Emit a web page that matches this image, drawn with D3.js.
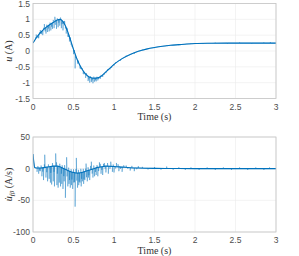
<!DOCTYPE html>
<html>
<head>
<meta charset="utf-8">
<script src="https://cdn.jsdelivr.net/npm/d3@7"></script>
<style>
  body { margin: 0; background: #fff; }
  svg { display: block; }
</style>
</head>
<body>
<div id="chart"></div>
<script>
// x ticks shared by both panels
const xTicks = [0, 0.5, 1, 1.5, 2, 2.5, 3];

// top panel: u (A), smooth part
const uTime = [0, 0.05, 0.1, 0.15, 0.2, 0.25, 0.3, 0.33, 0.36, 0.4, 0.45, 0.5, 0.55, 0.6, 0.65, 0.7, 0.75, 0.8, 0.85, 0.9, 0.95, 1.0, 1.1, 1.2, 1.3, 1.4, 1.5, 1.6, 1.7, 1.8, 1.9, 2.0, 2.2, 2.4, 2.6, 2.8, 3.0];
const uValue = [0.25, 0.45, 0.6, 0.72, 0.82, 0.9, 0.98, 1.0, 0.96, 0.8, 0.45, 0.05, -0.3, -0.55, -0.73, -0.83, -0.86, -0.85, -0.78, -0.66, -0.54, -0.42, -0.24, -0.11, -0.01, 0.06, 0.11, 0.15, 0.18, 0.2, 0.22, 0.235, 0.245, 0.25, 0.25, 0.25, 0.25];
// top panel: large noise spikes (time, tip value)
const uSpikeTime = [0.04, 0.07, 0.09, 0.12, 0.14, 0.16, 0.18, 0.2, 0.22, 0.24, 0.26, 0.27, 0.29, 0.31, 0.33, 0.35, 0.37, 0.39, 0.41, 0.43, 0.45, 0.47, 0.5, 0.52, 0.55, 0.58, 0.62, 0.65, 0.68, 0.7, 0.72, 0.74, 0.76, 0.78, 0.8, 0.83, 0.86, 0.9, 0.95, 1.0];
const uSpikeValue = [0.52, 0.4, 0.66, 0.5, 0.85, 0.55, 0.6, 0.62, 0.65, 0.7, 0.72, 1.08, 0.7, 0.75, 0.8, 0.72, 0.65, 0.95, 0.55, 0.45, 0.3, 0.2, -0.1, -0.55, -0.4, -0.55, -0.72, -0.85, -0.95, -1.0, -0.98, -1.02, -0.97, -0.96, -0.93, -0.88, -0.82, -0.7, -0.58, -0.46];
// top panel: small fuzz around the curve (time, offset from curve)
const uFuzzTime = [0.03, 0.06, 0.08, 0.105, 0.13, 0.15, 0.17, 0.19, 0.21, 0.23, 0.25, 0.28, 0.3, 0.32, 0.34, 0.36, 0.38, 0.4, 0.42, 0.44, 0.46, 0.48, 0.51, 0.53, 0.56, 0.59, 0.61, 0.63, 0.66, 0.69, 0.71, 0.73, 0.75, 0.77, 0.79, 0.81, 0.84, 0.88, 0.92, 0.97, 1.02, 1.08, 1.15, 1.25, 1.35, 1.5, 1.65, 1.8, 1.95, 2.1, 2.25, 2.4, 2.55, 2.7, 2.85, 2.93];
const uFuzzOffset = [0.06, -0.07, 0.05, -0.08, 0.06, -0.1, 0.07, -0.09, 0.06, -0.1, 0.08, -0.12, 0.05, -0.1, 0.07, -0.11, 0.06, -0.09, 0.07, -0.08, 0.06, -0.07, 0.05, -0.06, 0.05, -0.07, 0.04, -0.08, 0.05, -0.09, 0.04, -0.08, 0.05, -0.07, 0.04, -0.05, 0.04, -0.04, 0.03, -0.04, 0.03, -0.03, 0.03, -0.03, 0.02, -0.02, 0.02, -0.02, 0.02, -0.02, 0.02, -0.02, 0.02, -0.02, 0.02, 0.03];

// bottom panel: du/dt (A/s), smooth part
const dTime = [0, 0.01, 0.02, 0.05, 0.1, 0.15, 0.2, 0.25, 0.3, 0.35, 0.4, 0.45, 0.5, 0.55, 0.6, 0.65, 0.7, 0.75, 0.8, 0.85, 0.9, 1.0, 1.1, 1.2, 1.3, 1.5, 1.7, 2.0, 2.5, 3.0];
const dValue = [23, 10, 2, 1, 1, 2, 3, 4, 4, 2, -1, -4, -6, -7, -6, -4, -2, 0, 2, 3, 4, 3.5, 2.5, 1.5, 1, 0.5, 0.3, 0, 0, 0];
// bottom panel: large noise spikes (time, tip value)
const dSpikeTime = [0.05, 0.07, 0.09, 0.11, 0.13, 0.145, 0.16, 0.18, 0.2, 0.215, 0.23, 0.25, 0.265, 0.28, 0.295, 0.31, 0.325, 0.34, 0.355, 0.37, 0.385, 0.4, 0.415, 0.43, 0.445, 0.46, 0.475, 0.49, 0.505, 0.52, 0.535, 0.55, 0.565, 0.58, 0.595, 0.61, 0.625, 0.64, 0.655, 0.67, 0.685, 0.7, 0.72, 0.74, 0.76, 0.78, 0.8, 0.82, 0.84, 0.86, 0.88, 0.9, 0.93, 0.96, 0.98, 1.0, 1.03, 1.06, 1.1, 1.15, 1.2, 1.25, 1.3];
const dSpikeValue = [-5, -8, -4, -12, -18, 22, -14, -20, -16, -22, -25, -20, -28, 24, -26, -30, -22, -28, -24, -32, -20, -46, 18, -28, -24, -30, -26, -32, -22, -60, 17, -30, -26, -22, -28, -20, -24, -18, 8, -20, -14, -18, 11, -14, -12, -10, -12, 10, -8, -10, 9, -6, -8, 11, -5, -6, 9, -4, -5, 5, -3, -4, 4];
// bottom panel: small fuzz around the curve (time, offset from curve)
const dFuzzTime = [0.06, 0.08, 0.1, 0.12, 0.14, 0.17, 0.19, 0.22, 0.24, 0.26, 0.29, 0.3, 0.33, 0.35, 0.36, 0.38, 0.39, 0.42, 0.44, 0.45, 0.47, 0.48, 0.5, 0.51, 0.53, 0.54, 0.56, 0.57, 0.59, 0.6, 0.62, 0.63, 0.65, 0.66, 0.68, 0.69, 0.71, 0.73, 0.75, 0.77, 0.79, 0.81, 0.83, 0.85, 0.87, 0.89, 0.92, 0.95, 0.99, 1.02, 1.05, 1.08, 1.12, 1.17, 1.22, 1.28, 1.35, 1.42, 1.5, 1.58, 1.65, 1.73, 1.8, 1.88, 1.95, 2.05, 2.15, 2.25, 2.35, 2.45, 2.55, 2.65, 2.75, 2.85, 2.92];
const dFuzzOffset = [3, -4, 4, -6, 5, -8, 4, -10, 5, -9, 6, -12, 5, -10, 4, -12, 6, -10, 5, -14, 4, -12, 5, -15, 6, -12, 5, -14, 6, -10, 5, -12, 4, -10, 5, -8, 6, -7, 5, -6, 4, -6, 5, -5, 4, -4, 5, -4, 3, -3, 4, -3, 3, -2, 3, -2, 2, -2, 2, -2, 3, -2, 2, -2, 2, -2, 2, -2, 2, -2, 2, -2, 2, -2, 2];

const W = 299, H = 256;
const lineColor = "#0072BD";
const serif = "'Liberation Serif', 'Times New Roman', serif";
const sans = "'Liberation Sans', Arial, sans-serif";

const svg = d3.select("#chart").append("svg").attr("width", W).attr("height", H);

function drawPanel(cfg) {
  const x = d3.scaleLinear().domain([0, 3]).range([cfg.left, cfg.right]);
  const y = d3.scaleLinear().domain(cfg.yDomain).range([cfg.bottom, cfg.top]);
  const g = svg.append("g");

  // grid
  g.selectAll(".gx").data(xTicks).enter().append("line")
    .attr("x1", d => x(d)).attr("x2", d => x(d))
    .attr("y1", cfg.top).attr("y2", cfg.bottom)
    .attr("stroke", "#ebebeb").attr("stroke-width", 0.6);
  g.selectAll(".gy").data(cfg.yTicks).enter().append("line")
    .attr("x1", cfg.left).attr("x2", cfg.right)
    .attr("y1", d => y(d)).attr("y2", d => y(d))
    .attr("stroke", "#ebebeb").attr("stroke-width", 0.6);

  const clipId = "clip" + cfg.name;
  svg.append("clipPath").attr("id", clipId).append("rect")
    .attr("x", cfg.left).attr("y", cfg.top)
    .attr("width", cfg.right - cfg.left).attr("height", cfg.bottom - cfg.top);

  const base = cfg.t.map((t, i) => ({ t, v: cfg.v[i] }));
  const interp = t => {
    const i = d3.bisector(d => d.t).right(base, t);
    if (i <= 0) return base[0].v;
    if (i >= base.length) return base[base.length - 1].v;
    const a = base[i - 1], b = base[i];
    return a.v + (b.v - a.v) * (t - a.t) / (b.t - a.t);
  };

  // all spike tips, big ones absolute, fuzz relative to curve
  const tips = cfg.st.map((t, i) => ({ t, v: cfg.sv[i] }))
    .concat(cfg.ft.map((t, i) => ({ t, v: interp(t) + cfg.fo[i] })))
    .sort((a, b) => a.t - b.t);

  const noisy = [];
  let j = 0;
  base.forEach(p => {
    while (j < tips.length && tips[j].t < p.t) {
      const t = tips[j].t;
      noisy.push({ t, v: interp(t) });
      noisy.push({ t, v: tips[j].v });
      noisy.push({ t: t + 0.004, v: interp(t + 0.004) });
      j++;
    }
    noisy.push(p);
  });

  const line = d3.line().x(d => x(d.t)).y(d => y(d.v));
  g.append("path").datum(noisy)
    .attr("clip-path", `url(#${clipId})`)
    .attr("fill", "none").attr("stroke", lineColor)
    .attr("stroke-width", 0.6).attr("stroke-opacity", 0.65)
    .attr("d", line);
  g.append("path").datum(base)
    .attr("clip-path", `url(#${clipId})`)
    .attr("fill", "none").attr("stroke", lineColor)
    .attr("stroke-width", 1.1)
    .attr("d", d3.line().curve(d3.curveMonotoneX).x(d => x(d.t)).y(d => y(d.v)));

  // box
  g.append("rect")
    .attr("x", cfg.left).attr("y", cfg.top)
    .attr("width", cfg.right - cfg.left).attr("height", cfg.bottom - cfg.top)
    .attr("fill", "none").attr("stroke", "#c4c4c4").attr("stroke-width", 0.8);

  // tick labels
  g.selectAll(".xl").data(xTicks).enter().append("text")
    .attr("font-family", sans).attr("font-size", 8.5).attr("fill", "#4d4d4d")
    .attr("x", d => x(d)).attr("y", cfg.bottom + 11)
    .attr("text-anchor", "middle")
    .text(d => d3.format("~g")(d));
  g.selectAll(".yl").data(cfg.yTicks).enter().append("text")
    .attr("font-family", sans).attr("font-size", 8.5).attr("fill", "#4d4d4d")
    .attr("x", cfg.left - 3).attr("y", d => y(d) + 3)
    .attr("text-anchor", "end")
    .text(d => String(d));

  g.append("text")
    .attr("font-family", serif).attr("font-size", 10).attr("fill", "#333")
    .attr("x", (cfg.left + cfg.right) / 2).attr("y", cfg.bottom + 21.5)
    .attr("text-anchor", "middle")
    .text("Time (s)");

  const yl = g.append("text")
    .attr("font-family", serif).attr("font-size", 10).attr("fill", "#333")
    .attr("transform", `translate(12,${(cfg.top + cfg.bottom) / 2}) rotate(-90)`)
    .attr("text-anchor", "middle");
  cfg.yLabel(yl);
}

drawPanel({
  name: "top", left: 33, right: 276, top: 3.5, bottom: 98.5,
  yDomain: [-1.5, 1.5], yTicks: [-1.5, -1, -0.5, 0, 0.5, 1, 1.5],
  t: uTime, v: uValue, st: uSpikeTime, sv: uSpikeValue, ft: uFuzzTime, fo: uFuzzOffset,
  yLabel: t => {
    t.append("tspan").attr("font-style", "italic").text("u");
    t.append("tspan").text(" (A)");
  }
});

drawPanel({
  name: "bot", left: 33, right: 276, top: 137, bottom: 232,
  yDomain: [-100, 50], yTicks: [-100, -50, 0, 50],
  t: dTime, v: dValue, st: dSpikeTime, sv: dSpikeValue, ft: dFuzzTime, fo: dFuzzOffset,
  yLabel: t => {
    t.append("tspan").attr("font-style", "italic").text("u\u0307");
    t.append("tspan").attr("font-style", "italic").attr("font-size", "7px").attr("dy", 2).text("f\u03b2");
    t.append("tspan").attr("dy", -2).text(" (A/s)");
  }
});
</script>
</body>
</html>
